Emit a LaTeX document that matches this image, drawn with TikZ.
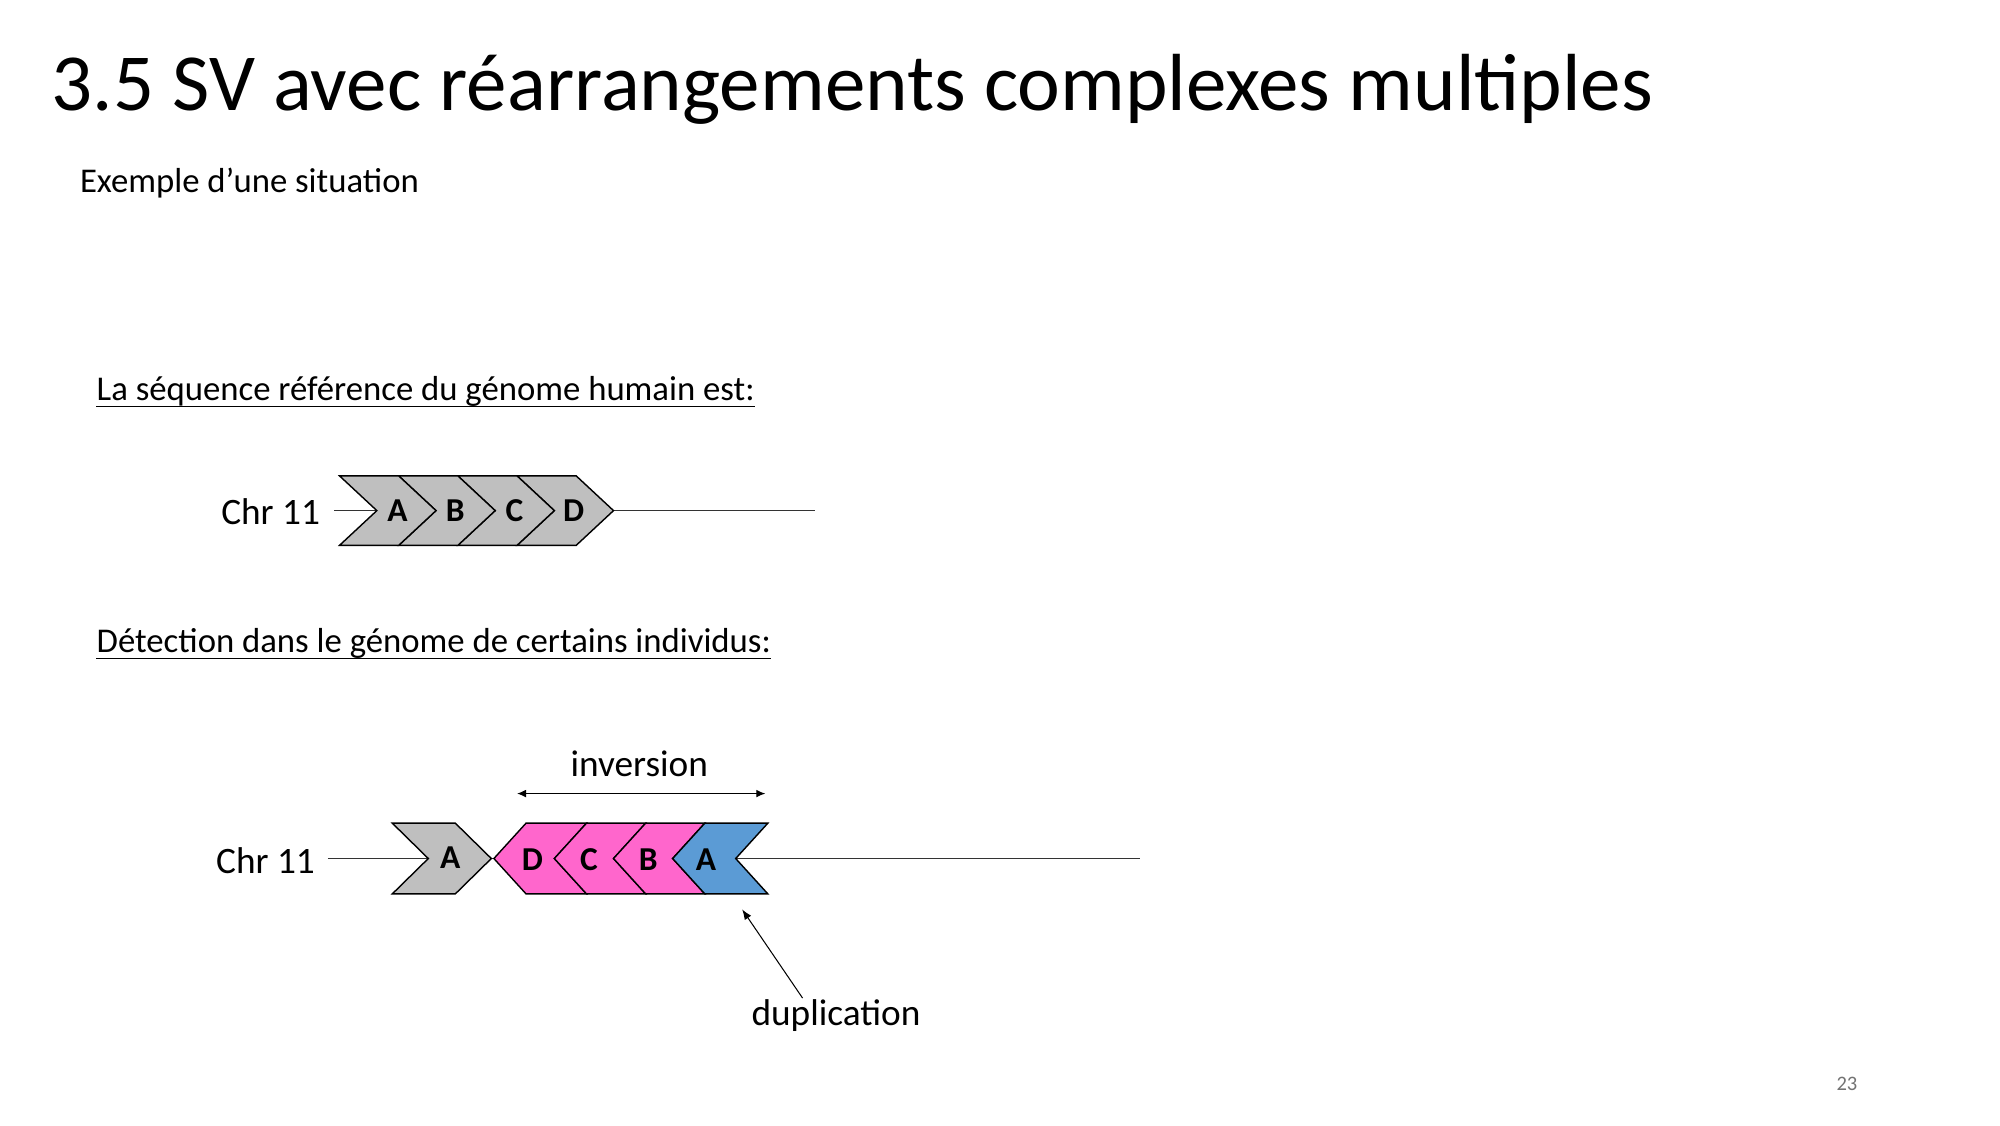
\documentclass[tikz,border=0pt]{standalone}
\usepackage{fontspec}
\setmainfont{Carlito}
\usetikzlibrary{arrows.meta,calc}
\definecolor{gr}{RGB}{191,191,191}
\definecolor{pk}{RGB}{255,102,204}
\definecolor{bl}{RGB}{91,155,213}
\tikzset{
 blk/.style={draw=black,line width=1.1pt,line join=miter},
 lbl/.style={font=\fontsize{26}{30}\selectfont\bfseries,inner sep=0},
 txt/.style={anchor=base west,inner sep=0},
 ul/.style={line width=0.8pt},
 ln/.style={line width=0.6pt,draw=black!80}
}
\newcommand{\fwdchev}[6]{\path[blk,fill=#6] (#1,#4) -- ++(#2,0) -- (#1+#2+#3,{(#4+#5)/2}) -- (#1+#2,#5) -- (#1,#5) -- (#1+#3,{(#4+#5)/2}) -- cycle;}
\newcommand{\revchev}[6]{\path[blk,fill=#6] (#1,#4) -- ++(#2,0) -- (#1+#2-#3,{(#4+#5)/2}) -- (#1+#2,#5) -- (#1,#5) -- (#1-#3,{(#4+#5)/2}) -- cycle;}
\begin{document}
\begin{tikzpicture}[x=1pt,y=-1pt]
\useasboundingbox[fill=white] (0,0) rectangle (1555,875);
\node[txt,font=\fontsize{63}{70}\selectfont] (title) at (40,86) {3.5 SV avec réarrangements complexes multiples};
\node[txt,font=\fontsize{27}{31}\selectfont] (sub) at (62,150) {Exemple d’une situation};
\node[txt,font=\fontsize{27}{31}\selectfont] (h1) at (75,311) {La séquence référence du génome humain est:};
\draw[ul] ($(h1.base west)+(0,5)$) -- ($(h1.base east)+(0,5)$);
\node[txt,font=\fontsize{27}{31}\selectfont] (h2) at (75,507) {Détection dans le génome de certains individus:};
\draw[ul] ($(h2.base west)+(0,5)$) -- ($(h2.base east)+(0,5)$);
% upper
\coordinate (u0) at (260,397); \coordinate (u1) at (634,397);
\draw[ln] (u0) -- (u1);
\node[anchor=east,font=\fontsize{29}{33}\selectfont,inner sep=0] (chr1) at (249,398) {Chr 11};
\fwdchev{402}{46}{29}{370}{424}{gr}
\fwdchev{356}{46}{29}{370}{424}{gr}
\fwdchev{310}{46}{29}{370}{424}{gr}
\fwdchev{264}{46}{29}{370}{424}{gr}
\node[lbl] (ua) at (309,397) {A};
\node[lbl] (ub) at (354,397) {B};
\node[lbl] (uc) at (400,397) {C};
\node[lbl] (ud) at (446,397) {D};
% lower
\coordinate (l0) at (255,667); \coordinate (l1) at (886,667);
\draw[ln] (l0) -- (l1);
\node[anchor=east,font=\fontsize{29}{33}\selectfont,inner sep=0] (chr2) at (245,669) {Chr 11};
\fwdchev{305}{49}{28}{640}{695}{gr}
\revchev{409}{47}{25}{640}{695}{pk}
\revchev{456}{46}{25}{640}{695}{pk}
\revchev{502}{46}{25}{640}{695}{pk}
\revchev{548}{49}{25}{640}{695}{bl}
\node[lbl] (la) at (350,667) {A};
\node[lbl] (ld) at (414,668) {D};
\node[lbl] (lc) at (458,668) {C};
\node[lbl] (lb) at (504,668) {B};
\node[lbl] (la2) at (549,668) {A};
\coordinate (i0) at (402,617); \coordinate (i1) at (595,617);
\draw[line width=0.8pt,{Latex[length=7pt,width=6pt]}-{Latex[length=7pt,width=6pt]}] (i0) -- (i1);
\node[font=\fontsize{29}{33}\selectfont,anchor=base] (inv) at (497,604) {inversion};
\node[font=\fontsize{29}{33}\selectfont,anchor=base] (dup) at (650,797) {duplication};
\coordinate (d0) at (624,776); \coordinate (d1) at (577,707);
\draw[line width=0.8pt,-{Latex[length=8pt,width=6pt]}] (d0) -- (d1);
\node[font=\fontsize{16}{18}\selectfont,text=black!55,anchor=base] (pg) at (1436,848) {23};
\end{tikzpicture}
\end{document}
